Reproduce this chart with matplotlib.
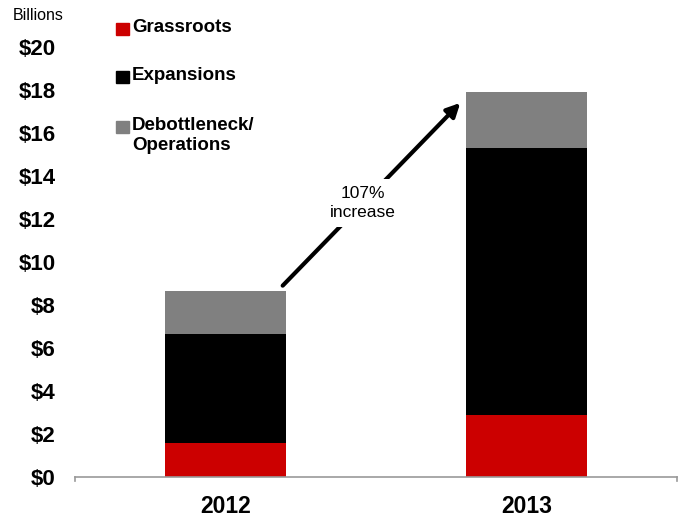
import matplotlib.pyplot as plt
from matplotlib.patches import Rectangle

years = ['2012', '2013']
series = ['Grassroots', 'Expansions', 'Debottleneck/\nOperations']
grassroots = [1.6, 2.9]
expansions = [5.05, 12.4]
debottleneck = [2.0, 2.6]
colors = ['#cc0000', '#000000', '#808080']
yticks = [0, 2, 4, 6, 8, 10, 12, 14, 16, 18, 20]

plt.rcParams['font.family'] = ['Liberation Sans', 'DejaVu Sans']

fig = plt.figure(figsize=(6.85, 5.19), dpi=100)
ax = fig.add_axes([75 / 685, 1 - 477 / 519, 602 / 685, 430 / 519])

x = list(range(len(years)))
bottom = [0, 0]
for vals, c in zip([grassroots, expansions, debottleneck], colors):
    ax.bar(x, vals, width=0.4, bottom=bottom, color=c, zorder=2)
    bottom = [b + v for b, v in zip(bottom, vals)]

ax.set_xlim(-0.5, 1.5)
ax.set_ylim(0, 20)
ax.set_yticks(yticks)
ax.set_yticklabels([f'${t}' for t in yticks], fontsize=16, fontweight='bold')
ax.set_xticks(x)
ax.set_xticklabels(years, fontsize=16.5, fontweight='bold')
ax.tick_params(axis='y', length=0, pad=14)
ax.tick_params(axis='x', length=0, pad=13)
for s in ['top', 'right', 'left']:
    ax.spines[s].set_visible(False)
ax.spines['bottom'].set_color('#999999')
ax.spines['bottom'].set_linewidth(1.2)
# small end ticks on the category axis
for xe in (-0.5, 1.5):
    ax.plot([xe, xe], [0, -0.2], color='#999999', lw=1.2, clip_on=False)

fig.text(13 / 685, 1 - 16 / 519, 'Billions', fontsize=11.5, ha='left', va='center')

# legend drawn by hand, square aligned with first text line
leg_y = [29, 77, 127]
for lab, c, yy in zip(series, colors, leg_y):
    fig.patches.append(Rectangle((116 / 685, 1 - (yy + 6) / 519), 13 / 685, 12 / 519,
                                 transform=fig.transFigure, color=c, figure=fig))
    fig.text(132 / 685, 1 - (yy - 10) / 519, lab, fontsize=13.5, fontweight='bold',
             ha='left', va='top', linespacing=1.2)

# growth arrow with label
tot = bottom
ax.annotate('', xy=(0.78, tot[1] - 0.5), xytext=(0.19, tot[0] + 0.25),
            arrowprops=dict(arrowstyle='-|>', color='black', lw=3,
                            mutation_scale=20, shrinkA=0, shrinkB=0))
ax.text(0.455, 12.75, f'{round((tot[1] / tot[0] - 1) * 100)}%\nincrease', ha='center', va='center',
        fontsize=12.5, linespacing=1.35,
        bbox=dict(facecolor='white', edgecolor='none', pad=5))

fig.savefig('out.png', dpi=100)
